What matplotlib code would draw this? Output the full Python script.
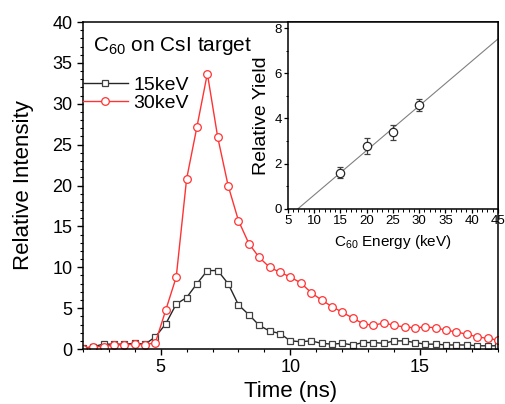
import numpy as np
import matplotlib
matplotlib.use("Agg")
import matplotlib.pyplot as plt
from matplotlib.ticker import MultipleLocator

plt.rcParams['font.family'] = ['Liberation Sans', 'DejaVu Sans']
plt.rcParams['mathtext.fontset'] = 'custom'
plt.rcParams['mathtext.rm'] = 'Liberation Sans'
plt.rcParams['mathtext.it'] = 'Liberation Sans'

# time axis (ns), one point every 0.4 ns
time_ns = [2.0, 2.4, 2.8, 3.2, 3.6, 4.0, 4.4, 4.8, 5.2, 5.6, 6.0, 6.4, 6.8, 7.2,
           7.6, 8.0, 8.4, 8.8, 9.2, 9.6, 10.0, 10.4, 10.8, 11.2, 11.6, 12.0,
           12.4, 12.8, 13.2, 13.6, 14.0, 14.4, 14.8, 15.2, 15.6, 16.0, 16.4,
           16.8, 17.2, 17.6, 18.0]

int_15kev = [0.1, 0.3, 0.6, 0.6, 0.6, 0.7, 0.6, 1.5, 3.1, 5.5, 6.3, 8.0, 9.6, 9.6,
             8.0, 5.4, 4.2, 2.9, 2.2, 1.9, 1.0, 0.9, 1.0, 0.7, 0.6, 0.7,
             0.5, 0.8, 0.8, 0.7, 1.0, 1.0, 0.8, 0.6, 0.6, 0.5, 0.5,
             0.5, 0.4, 0.4, 0.4]

int_30kev = [0.0, 0.3, 0.3, 0.5, 0.5, 0.6, 0.5, 0.8, 4.8, 8.8, 20.8, 27.2, 33.7, 25.9,
             20.0, 15.7, 12.9, 11.2, 10.0, 9.4, 8.8, 8.1, 6.9, 6.0, 5.2, 4.5,
             3.8, 3.1, 2.9, 3.2, 2.9, 2.7, 2.6, 2.7, 2.6, 2.3, 2.1,
             1.8, 1.5, 1.3, 1.1]

# inset: relative yield vs C60 energy
energy_kev = [15, 20, 25, 30]
rel_yield = [1.6, 2.8, 3.4, 4.6]
yield_err = [0.24, 0.35, 0.33, 0.26]
fit_x = [6.9, 45]
fit_y = [0.0, 7.52]

red = '#ff3333'
dark = '#262626'

fig = plt.figure(figsize=(5.05, 4.04), dpi=100)
ax = fig.add_axes([0.164, 0.136, 0.822, 0.8095])

ax.plot(time_ns, int_15kev, color=dark, lw=1.0, marker='s', ms=5,
        mfc='white', mec='#404040', mew=0.9, label='15keV')
ax.plot(time_ns, int_30kev, color=red, lw=1.0, marker='o', ms=5.5,
        mfc='white', mec=red, mew=0.9, label='30keV')

ax.set_xlim(2, 18)
ax.set_ylim(0, 40)
ax.xaxis.set_major_locator(MultipleLocator(5))
ax.xaxis.set_minor_locator(MultipleLocator(1))
ax.yaxis.set_major_locator(MultipleLocator(5))
ax.yaxis.set_minor_locator(MultipleLocator(1))
ax.tick_params(which='both', direction='out', top=False, right=False, labelsize=13)
ax.tick_params(which='major', length=4, width=1.0)
ax.tick_params(which='minor', length=2.5, width=0.8)
for s in ax.spines.values():
    s.set_linewidth(1.1)

ax.set_xlabel('Time (ns)', fontsize=16, labelpad=3)
ax.set_ylabel('Relative Intensity', fontsize=16, labelpad=13)

ax.text(0.024, 0.96, r'C$_{60}$ on CsI target', transform=ax.transAxes,
        fontsize=15, va='top', ha='left')

ax.legend(loc='upper left', bbox_to_anchor=(0.0, 0.835), frameon=False,
          fontsize=14, handlelength=2.3, handletextpad=0.3, labelspacing=0.05,
          borderpad=0, borderaxespad=0)

# inset
axi = fig.add_axes([0.570, 0.483, 0.416, 0.4625])
axi.errorbar(energy_kev, rel_yield, yerr=yield_err, fmt='o', ms=6,
             mfc='white', mec=dark, mew=0.9, ecolor='#404040', elinewidth=0.9,
             capsize=2.5, capthick=0.9, zorder=3)
axi.plot(fit_x, fit_y, color='#808080', lw=0.8)
axi.set_xlim(5, 45)
axi.set_ylim(0, 8.27)
axi.xaxis.set_major_locator(MultipleLocator(5))
axi.xaxis.set_minor_locator(MultipleLocator(1))
axi.yaxis.set_major_locator(MultipleLocator(2))
axi.yaxis.set_minor_locator(MultipleLocator(1))
axi.tick_params(which='both', direction='out', top=False, right=False,
                labelsize=9.5, pad=1.5)
axi.tick_params(which='major', length=3, width=0.9)
axi.tick_params(which='minor', length=1.8, width=0.7)
for s in axi.spines.values():
    s.set_linewidth(1.1)
axi.set_xlabel(r'C$_{60}$ Energy (keV)', fontsize=11, labelpad=4)
axi.set_ylabel('Relative Yield', fontsize=14, labelpad=3)

fig.savefig('out.png', dpi=100)
